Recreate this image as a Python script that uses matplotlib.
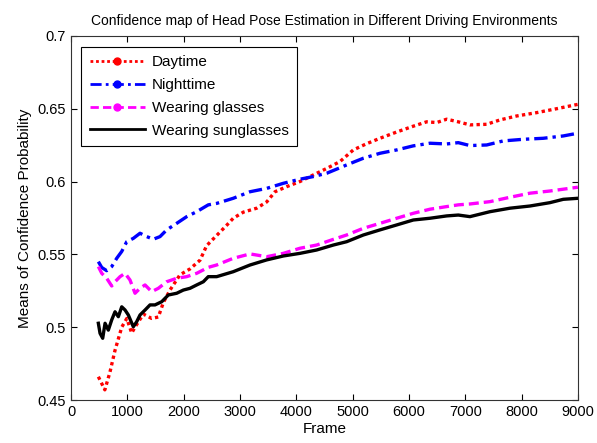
import matplotlib
matplotlib.use('Agg')
import matplotlib.pyplot as plt
from matplotlib.lines import Line2D

plt.rcParams['font.family'] = ['Liberation Sans', 'DejaVu Sans']

# values (frame, mean confidence)
day_x = [485, 600, 690, 780, 900, 990, 1077, 1136, 1284, 1432, 1550, 1640, 1757, 1935,
         2112, 2290, 2408, 2586, 2764, 2880, 3060, 3296, 3474, 3622, 3830, 4065, 4300,
         4540, 4775, 5012, 5250, 5485, 5782, 6077, 6314, 6492, 6670, 6876, 7083, 7380,
         7616, 7912, 8267, 8622, 9000]
day_y = [0.466, 0.457, 0.469, 0.484, 0.500, 0.506, 0.496, 0.500, 0.509, 0.506, 0.507,
         0.517, 0.5255, 0.536, 0.540, 0.546, 0.556, 0.563, 0.570, 0.5748, 0.579, 0.5817,
         0.586, 0.593, 0.5965, 0.600, 0.6045, 0.609, 0.6137, 0.6217, 0.626, 0.6297,
         0.634, 0.638, 0.641, 0.6405, 0.6428, 0.641, 0.6389, 0.6393, 0.6423, 0.645,
         0.6473, 0.650, 0.653]

night_x = [485, 545, 633, 722, 811, 900, 989, 1106, 1225, 1344, 1461, 1580, 1698, 1876,
           2054, 2231, 2437, 2586, 2880, 3178, 3474, 3770, 4065, 4300, 4540, 4746, 4894,
           5190, 5485, 5782, 6077, 6373, 6670, 6876, 7083, 7380, 7675, 8030, 8385, 8740,
           9000]
night_y = [0.545, 0.541, 0.5388, 0.5416, 0.5473, 0.552, 0.5587, 0.561, 0.5645, 0.5622,
           0.5604, 0.5622, 0.5668, 0.5713, 0.5759, 0.5793, 0.584, 0.585, 0.5885, 0.593,
           0.5953, 0.5988, 0.6016, 0.6034, 0.6057, 0.609, 0.6114, 0.616, 0.6194, 0.6217,
           0.6245, 0.6263, 0.6258, 0.6267, 0.6247, 0.6251, 0.6279, 0.629, 0.6297, 0.6313,
           0.6332]

glasses_x = [485, 545, 633, 722, 781, 870, 959, 1047, 1136, 1225, 1314, 1432, 1550, 1698,
             1876, 2054, 2231, 2437, 2586, 2880, 3178, 3474, 3770, 4065, 4361, 4657, 4894,
             5190, 5485, 5782, 6077, 6373, 6670, 6876, 7083, 7438, 7793, 8148, 8503, 9000]
glasses_y = [0.5416, 0.537, 0.5336, 0.5283, 0.5312, 0.5347, 0.537, 0.5324, 0.5233, 0.5267,
             0.529, 0.5244, 0.5267, 0.5312, 0.5336, 0.5347, 0.537, 0.5411, 0.5427, 0.5473,
             0.5503, 0.5484, 0.5507, 0.5542, 0.5564, 0.5603, 0.5633, 0.5679, 0.5713,
             0.5748, 0.5782, 0.581, 0.5828, 0.584, 0.5846, 0.5862, 0.5892, 0.592, 0.5935,
             0.5961]

sun_x = [485, 515, 562, 604, 662, 722, 781, 840, 900, 959, 1017, 1106, 1166, 1225, 1314,
         1402, 1491, 1610, 1727, 1876, 1994, 2112, 2231, 2349, 2437, 2586, 2880, 3178,
         3474, 3770, 4065, 4361, 4657, 4894, 5190, 5485, 5782, 6077, 6373, 6670, 6876,
         7083, 7438, 7793, 8148, 8503, 8740, 9000]
sun_y = [0.5027, 0.4958, 0.4924, 0.5027, 0.498, 0.505, 0.5106, 0.5072, 0.514, 0.5118,
         0.5084, 0.5003, 0.5038, 0.5084, 0.5118, 0.5153, 0.5153, 0.5175, 0.5221, 0.5233,
         0.5255, 0.5267, 0.529, 0.5312, 0.5347, 0.5347, 0.5381, 0.5427, 0.5462, 0.5489,
         0.5507, 0.553, 0.5564, 0.5587, 0.5633, 0.5668, 0.5702, 0.5736, 0.5748, 0.5764,
         0.577, 0.5759, 0.5793, 0.5817, 0.5832, 0.5855, 0.5878, 0.5885]

labels = ['Daytime', 'Nighttime', 'Wearing glasses', 'Wearing sunglasses']
colors = ['#ff0000', '#0000ff', '#ff00ff', '#000000']
styles = [(0, (1, 1)), (0, (4, 1.5, 1, 1.5)), (0, (3, 1.5)), '-']
series = [(day_x, day_y), (night_x, night_y), (glasses_x, glasses_y), (sun_x, sun_y)]

fig = plt.figure(figsize=(5.97, 4.43), dpi=100)
ax = fig.add_axes([0.119, 0.097, 0.849, 0.822])

for (xs, ys), c, ls in zip(series, colors, styles):
    ax.plot(xs, ys, color=c, linestyle=ls, linewidth=2.4)

ax.set_xlim(0, 9000)
ax.set_ylim(0.45, 0.7)
ax.set_xticks(range(0, 9001, 1000))
ax.set_yticks([0.45, 0.5, 0.55, 0.6, 0.65, 0.7])
ax.set_yticklabels(['0.45', '0.5', '0.55', '0.6', '0.65', '0.7'])
ax.tick_params(direction='in', top=True, right=True, labelsize=10.5, length=4)
for s in ax.spines.values():
    s.set_linewidth(0.8)
    s.set_color('#333333')

ax.set_title('Confidence map of Head Pose Estimation in Different Driving Environments',
             fontsize=10, pad=8)
ax.set_xlabel('Frame', fontsize=11, labelpad=2)
ax.set_ylabel('Means of Confidence Probability', fontsize=11)

# legend entries show one dot in the middle of the line, like the original
handles = []
for i, (c, ls) in enumerate(zip(colors, styles)):
    m = '.' if i < 3 else None
    handles.append(Line2D([], [], color=c, linestyle=ls, linewidth=2, marker=m, markersize=10))
leg = ax.legend(handles, labels, loc='upper left', bbox_to_anchor=(0.02, 0.97), fontsize=11,
                handlelength=3.6, labelspacing=0.58, borderpad=0.55, handletextpad=0.5,
                fancybox=False, framealpha=1, edgecolor='black', numpoints=1,
                borderaxespad=0)
leg.get_frame().set_linewidth(0.8)

plt.savefig('out.png', dpi=100)
